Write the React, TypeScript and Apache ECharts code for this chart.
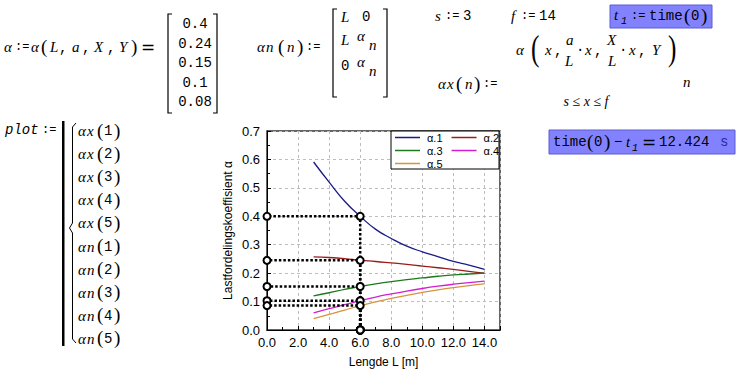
import React, { useEffect, useRef } from 'react';
import * as echarts from 'echarts';

// ---- data ----
const xCurve = [3, 4, 5, 6, 7, 8, 9, 10, 11, 12, 13, 14];
const alpha1 = [0.591, 0.52, 0.453, 0.4, 0.354, 0.322, 0.295, 0.275, 0.258, 0.241, 0.228, 0.213];
const alpha2 = [0.257, 0.255, 0.251, 0.245, 0.241, 0.236, 0.231, 0.225, 0.219, 0.213, 0.206, 0.2];
const alpha3 = [0.12, 0.131, 0.143, 0.153, 0.162, 0.17, 0.177, 0.183, 0.189, 0.194, 0.197, 0.2];
const alpha4 = [0.06, 0.075, 0.089, 0.103, 0.116, 0.127, 0.137, 0.146, 0.154, 0.161, 0.167, 0.172];
const alpha5 = [0.04, 0.055, 0.07, 0.086, 0.099, 0.111, 0.122, 0.132, 0.141, 0.149, 0.156, 0.162];
const curveNames = ['α.1', 'α.2', 'α.3', 'α.4', 'α.5'];
const curveColors = ['#1a1a8a', '#9a1c1c', '#1c7a1c', '#d41ed4', '#d8923e'];
const Lsel = 6;
const alphaAtL = [0.4, 0.245, 0.153, 0.103, 0.086];
const alphaShown = ['0.4', '0.24', '0.15', '0.1', '0.08'];
const sVal = '3';
const fVal = '14';
const elapsed = '12.424';
const listLabels = ['αx', 'αx', 'αx', 'αx', 'αx', 'αn', 'αn', 'αn', 'αn', 'αn'];
const listArgs = ['1', '2', '3', '4', '5', '1', '2', '3', '4', '5'];

const MONO = '14px "Liberation Mono"';
const ASSIGN = '12px "Liberation Mono"';
const VAR = 'italic 15px "Liberation Serif"';
const PAREN = '19px "Liberation Serif"';
const EQ = '17px "DejaVu Sans"';

const T = (text: string, x: number, y: number, font: string, extra: any = {}, el: any = {}) => ({
  type: 'text',
  x,
  y,
  z: 10,
  ...el,
  style: { text, font, fill: '#000', verticalAlign: 'middle', align: 'left', ...extra },
});

const bracket = (x: number, y0: number, y1: number, dir: number) => ({
  type: 'polyline',
  z: 10,
  shape: { points: [[x + 4 * dir, y0], [x, y0], [x, y1], [x + 4 * dir, y1]] },
  style: { stroke: '#000', lineWidth: 1.2, fill: null },
});

function buildGraphics() {
  const g: any[] = [];
  // alpha := alpha(L, a, X, Y) =
  const y1 = 47;
  g.push(T('α', 4, y1, VAR), T(':=', 15, y1, ASSIGN), T('α', 31, y1, VAR), T('(', 41, y1 - 1, PAREN));
  g.push(T('L', 50, y1, VAR), T(',', 59, y1 + 1, MONO), T('a', 72, y1, VAR), T(',', 82, y1 + 1, MONO));
  g.push(T('X', 94, y1, VAR), T(',', 107, y1 + 1, MONO), T('Y', 119, y1, VAR), T(')', 131, y1 - 1, PAREN));
  g.push(T('=', 141, y1, EQ));
  g.push(bracket(168, 14, 113, 1), bracket(217, 14, 113, -1));
  alphaShown.forEach((v, i) => g.push(T(v, 195, 24 + i * 19.5, MONO, { align: 'center' })));

  // alpha_n(n) := matrix
  g.push(T('α', 257, y1, VAR), T('n', 266, y1, VAR), T('(', 278, y1 - 1, PAREN), T('n', 287, y1, VAR));
  g.push(T(')', 297, y1 - 1, PAREN), T(':=', 306, y1, ASSIGN));
  g.push(bracket(333, 9, 97, 1), bracket(387, 9, 97, -1));
  g.push(T('L', 341, 17, VAR), T('0', 362, 17, MONO));
  g.push(T('L', 341, 40, VAR), T('α', 357, 36, VAR), T('n', 369, 45, VAR));
  g.push(T('0', 341, 66, MONO), T('α', 357, 62, VAR), T('n', 369, 71, VAR));

  // s := 3   f := 14
  g.push(T('s', 435, 16, VAR), T(':=', 445, 16, ASSIGN), T(sVal, 463, 16, MONO));
  g.push(T('f', 511, 16, VAR), T(':=', 521, 16, ASSIGN), T(fVal, 539, 16, MONO));

  // t1 := time(0)
  g.push({ type: 'rect', z: 9, shape: { x: 610, y: 5, width: 102, height: 23 }, style: { fill: '#8282ff', stroke: '#5a5ad0', lineWidth: 1 } });
  g.push(T('t', 614, 15, VAR), T('1', 621, 21, 'italic 10px "Liberation Mono"'), T(':=', 631, 16, ASSIGN));
  g.push(T('time', 649, 16, MONO), T('(', 684, 15, PAREN), T('0', 691, 16, MONO), T(')', 701, 15, PAREN));

  // alpha_x(n) :=
  const yx = 84;
  g.push(T('α', 438, yx, VAR), T('x', 447, yx, VAR), T('(', 456, yx - 1, PAREN), T('n', 465, yx, VAR));
  g.push(T(')', 474, yx - 1, PAREN), T(':=', 483, yx, ASSIGN));
  const yn = 50;
  const BIG = '36px "Liberation Serif"';
  g.push(T('α', 516, yn, VAR), T('(', 531, yn - 2, BIG, {}, { scaleX: 0.7 }), T('x', 545, yn, VAR), T(',', 554, yn + 1, MONO));
  g.push(T('a', 566, 40, VAR), T('L', 565, 61, VAR), T('·', 576, yn, MONO), T('x', 585, yn, VAR), T(',', 594, yn + 1, MONO));
  g.push(T('X', 607, 40, VAR), T('L', 608, 61, VAR), T('·', 619, yn, MONO), T('x', 629, yn, VAR), T(',', 638, yn + 1, MONO));
  g.push(T('Y', 652, yn, VAR), T(')', 668, yn - 2, BIG, {}, { scaleX: 0.7 }), T('n', 683, 82, VAR));
  g.push(T('s ≤ x ≤ f', 586, 101, 'italic 14px "Liberation Serif"', { align: 'center' }));

  // plot := program
  g.push(T('plot', 5, 130, 'italic 14px "Liberation Mono"'), T(':=', 42, 130, ASSIGN));
  g.push({ type: 'rect', z: 9, shape: { x: 62, y: 121, width: 2.5, height: 225 }, style: { fill: '#000' } });
  g.push({
    type: 'polyline', z: 10,
    shape: { points: [[76, 123], [72.5, 127], [72.5, 223], [69.5, 228], [72.5, 233], [72.5, 339], [76, 343]] },
    style: { stroke: '#000', lineWidth: 1, fill: null },
  });
  listLabels.forEach((lab, i) => {
    const y = 131 + i * 23.1;
    g.push(T(lab.charAt(0), 78, y, VAR), T(lab.charAt(1), 87, y, VAR));
    g.push(T('(', 97, y - 1, PAREN), T(listArgs[i], 104, y, MONO), T(')', 114, y - 1, PAREN));
  });

  // time(0) - t1 = 12.424 s
  g.push({ type: 'rect', z: 9, shape: { x: 549, y: 130, width: 186, height: 24 }, style: { fill: '#8282ff', stroke: '#5a5ad0', lineWidth: 1 } });
  const yt = 142;
  g.push(T('time', 553, yt, MONO), T('(', 587, yt - 1, PAREN), T('0', 594, yt, MONO), T(')', 604, yt - 1, PAREN));
  g.push(T('−', 614, yt, MONO), T('t', 626, yt, VAR), T('1', 632, yt + 6, 'italic 10px "Liberation Mono"'));
  g.push(T('=', 642, yt, EQ), T(elapsed, 659, yt, MONO), T('s', 720, yt, MONO, { fill: '#2a2a9a' }));

  // legend box
  g.push({ type: 'rect', z: 3, shape: { x: 391, y: 131, width: 108, height: 38 }, style: { fill: '#fff', stroke: '#000', lineWidth: 1 } });
  return g;
}

export default function App() {
  const ref = useRef<HTMLDivElement>(null);
  useEffect(() => {
    document.body.style.margin = '0';
    const chart = echarts.init(ref.current!, null, { renderer: 'svg' });
    const curves = [alpha1, alpha2, alpha3, alpha4, alpha5];
    const series: any[] = curves.map((arr, i) => ({
      name: curveNames[i],
      type: 'line',
      data: xCurve.map((x, j) => [x, arr[j]]),
      smooth: true,
      symbol: 'none',
      lineStyle: { color: curveColors[i], width: 1.3 },
      itemStyle: { color: curveColors[i] },
      z: 2,
    }));
    alphaAtL.forEach((a, i) => {
      series.push({
        name: 'αn' + (i + 1),
        type: 'line',
        data: [[Lsel, 0], [Lsel, a], [0, a]],
        symbol: 'emptyCircle',
        symbolSize: 7,
        clip: false,
        lineStyle: { color: '#000', width: 2.5, type: [2.5, 2] },
        itemStyle: { color: '#000', borderColor: '#000', borderWidth: 1.6 },
        z: 3,
      });
    });
    const legendCommon = {
      left: 395,
      icon: 'rect',
      itemWidth: 25,
      itemHeight: 1.5,
      itemGap: 9,
      padding: 0,
      z: 5,
      textStyle: { fontFamily: '"Liberation Sans"', fontSize: 11, lineHeight: 11, color: '#000', padding: [0, 0, 0, 2] },
    };
    chart.setOption({
      animation: false,
      backgroundColor: '#fff',
      grid: { left: 267, top: 131, width: 233, height: 199, show: true, borderColor: '#333', borderWidth: 1.5 },
      legend: [
        { ...legendCommon, top: 132, data: [curveNames[0], curveNames[1]] },
        { ...legendCommon, top: 145, data: [curveNames[2], curveNames[3]] },
        { ...legendCommon, top: 158, data: [curveNames[4]] },
      ],
      xAxis: {
        type: 'value', min: 0, max: 15, interval: 2,
        name: 'Lengde L [m]', nameLocation: 'middle', nameGap: 26,
        nameTextStyle: { fontFamily: '"Liberation Sans"', fontSize: 12, color: '#000' },
        axisLine: { lineStyle: { color: '#000', width: 1 } },
        axisTick: { inside: true, length: 4, lineStyle: { color: '#000' } },
        minorTick: { show: true, splitNumber: 2, length: 3, lineStyle: { color: '#000' } },
        axisLabel: {
          margin: 6, fontFamily: '"Liberation Sans"', fontSize: 13, color: '#000',
          formatter: (v: number) => (v % 2 === 0 ? v.toFixed(1) : ''),
        },
        splitLine: { show: true, lineStyle: { color: '#bdbdbd', type: [3, 3], width: 1 } },
      },
      yAxis: {
        type: 'value', min: 0, max: 0.7, interval: 0.1,
        name: 'Lastfordelingskoeffisient α', nameLocation: 'middle', nameGap: 33,
        nameTextStyle: { fontFamily: '"Liberation Sans"', fontSize: 12, color: '#000' },
        axisLine: { show: true, lineStyle: { color: '#000', width: 1 } },
        axisTick: { show: true, inside: true, length: 4, lineStyle: { color: '#000' } },
        minorTick: { show: true, splitNumber: 2, length: 3, lineStyle: { color: '#000' } },
        axisLabel: {
          margin: 7, fontFamily: '"Liberation Sans"', fontSize: 13, color: '#000',
          formatter: (v: number) => v.toFixed(1),
        },
        splitLine: { show: true, lineStyle: { color: '#bdbdbd', type: [3, 3], width: 1 } },
      },
      series,
      graphic: buildGraphics(),
    });
    return () => chart.dispose();
  }, []);
  return <div ref={ref} style={{ width: 740, height: 386, background: '#fff' }} />;
}
